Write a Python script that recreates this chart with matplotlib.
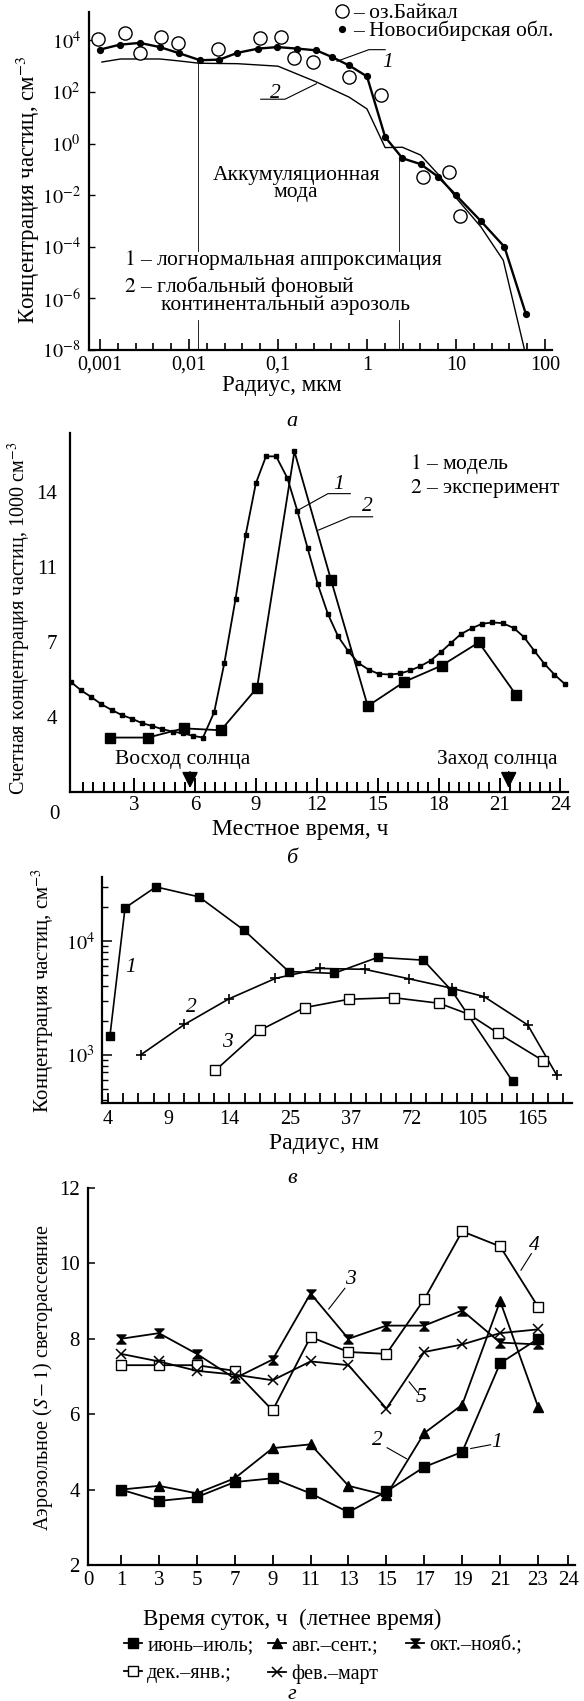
import numpy as np
import matplotlib.pyplot as plt
from matplotlib.lines import Line2D
from matplotlib.path import Path
from matplotlib.ticker import FixedLocator, FixedFormatter, NullFormatter

W, H = 584, 1701
plt.rcParams['font.family'] = ['Liberation Serif', 'DejaVu Serif']
plt.rcParams['mathtext.fontset'] = 'stix'
plt.rcParams['font.size'] = 14

# --- а: size distribution, radius in um ---
baikal_r = [0.00095, 0.0019, 0.0028, 0.0049, 0.0076, 0.0214, 0.063, 0.107, 0.15, 0.25, 0.63, 1.44, 4.3, 8.3, 11]
baikal_n = [1.15e4, 2e4, 3.3e3, 1.3e4, 8e3, 4.5e3, 1.2e4, 1.4e4, 2.1e3, 1.45e3, 380, 74, 0.049, 0.076, 0.0016]
novosib_r = [0.001, 0.00166, 0.0028, 0.0047, 0.0077, 0.0133, 0.022, 0.035, 0.06, 0.098, 0.165, 0.27,
             0.4, 0.63, 1.0, 1.6, 2.5, 4.0, 6.3, 10, 19, 35, 61]
novosib_n = [4.4e3, 6.8e3, 8e3, 5.5e3, 3.2e3, 1.7e3, 1.8e3, 3.3e3, 4.8e3, 5.5e3, 4.8e3, 4.1e3,
             2.3e3, 1.07e3, 400, 1.8, 0.27, 0.16, 0.052, 0.01, 0.001, 1e-4, 2.5e-7]
bg_r = [0.00105, 0.0017, 0.0047, 0.0077, 0.013, 0.035, 0.1, 0.27, 0.63, 1.0, 1.6, 2.5, 4.0, 6.3, 10, 19, 34, 59]
bg_n = [1.45e3, 1.9e3, 1.9e3, 1.6e3, 1.3e3, 1.25e3, 1e3, 245, 63, 22, 0.7, 0.72, 0.36, 0.065, 0.008, 6e-4, 3e-5, 1e-8]
mode_bounds = [0.0125, 2.3]
a_xticks = [0.001, 0.01, 0.1, 1, 10, 100]
a_xlabels = ['0,001', '0,01', '0,1', '1', '10', '100']
a_yticks = [1e-8, 1e-6, 1e-4, 1e-2, 1e0, 1e2, 1e4]
a_ylabels = [r'$10^{-8}$', r'$10^{-6}$', r'$10^{-4}$', r'$10^{-2}$', r'$10^{0}$', r'$10^{2}$', r'$10^{4}$']

# --- б: diurnal count concentration ---
model_h = [-0.1, 0.4, 0.9, 1.4, 1.9, 2.4, 2.9, 3.4, 3.9, 4.4, 4.9, 5.4, 5.9, 6.4, 6.95, 7.45, 8.0, 8.5, 9.0,
           9.5, 10.0, 10.55, 11.05, 11.55, 12.05, 12.55, 13.05, 13.55, 14.05, 14.55, 15.05, 15.6, 16.1, 16.6,
           17.1, 17.6, 18.1, 18.6, 19.1, 19.65, 20.15, 20.65, 21.15, 21.7, 22.2, 22.7, 23.2, 23.7, 24.2]
model_c = [5.13, 4.74, 4.43, 4.09, 3.83, 3.59, 3.42, 3.21, 3.08, 2.93, 2.82, 2.74, 2.62, 2.54, 3.73, 6.02, 9.0,
           12.0, 14.4, 15.66, 15.66, 14.65, 13.1, 11.37, 9.69, 8.3, 7.26, 6.57, 6.02, 5.71, 5.51, 5.48, 5.53,
           5.67, 5.87, 6.13, 6.52, 6.95, 7.37, 7.65, 7.85, 7.91, 7.88, 7.65, 7.23, 6.6, 5.99, 5.48, 5.05]
exp_h = [1.82, 3.69, 5.45, 7.28, 9.06, 10.9, 12.7, 14.51, 16.31, 18.15, 19.98, 21.82]
exp_c = [2.54, 2.54, 2.97, 2.88, 4.86, 15.89, 9.9, 4.01, 5.14, 5.9, 6.98, 4.52]
b_yticks = [3.5, 7, 10.5, 14]
b_ylabels = ['4', '7', '11', '14']
b_xticks = [3, 6, 9, 12, 15, 18, 21, 24]
sunrise, sunset = 5.76, 21.45

# --- в: size spectra, radius channels in nm ---
c_labels = ['4', '9', '14', '25', '37', '72', '105', '165']
c1_x = [0.03, 0.28, 0.79, 1.5, 2.24, 2.98, 3.72, 4.45, 5.2, 5.67, 6.67]
c1_n = [1450, 19600, 30000, 24500, 12500, 5400, 5200, 7200, 6800, 3650, 585]
c2_x = [0.54, 1.26, 1.99, 2.76, 3.5, 4.23, 4.97, 5.67, 6.2, 6.92, 7.4]
c2_n = [1000, 1850, 3100, 4700, 5750, 5650, 4650, 3850, 3250, 1830, 660]
c3_x = [1.77, 2.5, 3.24, 3.97, 4.71, 5.46, 5.95, 6.43, 7.17]
c3_n = [730, 1640, 2600, 3080, 3180, 2840, 2270, 1550, 890]

# --- г: aerosol scattering by season ---
hours = [1, 3, 5, 7, 9, 11, 13, 15, 17, 19, 21, 23]
s_jun = [4.0, 3.7, 3.8, 4.2, 4.3, 3.9, 3.4, 3.95, 4.6, 5.0, 7.35, 8.0]
s_aug = [4.0, 4.1, 3.9, 4.3, 5.1, 5.2, 4.1, 3.85, 5.5, 6.25, 9.0, 6.2]
s_oct = [8.0, 8.15, 7.6, 6.95, 7.45, 9.2, 8.0, 8.35, 8.35, 8.75, 7.9, 7.85]
s_dec = [7.3, 7.3, 7.3, 7.15, 6.1, 8.05, 7.65, 7.6, 9.05, 10.85, 10.45, 8.85]
s_feb = [7.6, 7.4, 7.15, 7.05, 6.9, 7.4, 7.3, 6.15, 7.65, 7.85, 8.15, 8.25]
seasons = ['июнь–июль;', 'авг.–сент.;', 'окт.–нояб.;', 'дек.–янв.;', 'фев.–март']

TXT = 15.5  # annotation text size


def rect(l, t, r, b):
    return [l / W, 1 - b / H, (r - l) / W, (b - t) / H]


def style(ax):
    for s in ('top', 'right'):
        ax.spines[s].set_visible(False)
    for s in ('left', 'bottom'):
        ax.spines[s].set_linewidth(1.6)


def leader(ax, xs, ys, lw=0.8):
    ax.plot(xs, ys, color='black', lw=lw)


fig = plt.figure(figsize=(W / 100, H / 100), dpi=100)

# ================= а =================
ax = fig.add_axes(rect(89, 12, 552, 350))
style(ax)
ax.set_xscale('log')
ax.set_yscale('log')
ax.set_xlim(10 ** -3.124, 10 ** 2.079)
ax.set_ylim(1e-8, 10 ** 5.1)
for xb, top in zip(mode_bounds, [10 ** 3.1, 10 ** -0.55]):
    ax.plot([xb, xb], [top, 10 ** -4.15], color='black', lw=0.6)
    ax.plot([xb, xb], [10 ** -6.85, 1e-8], color='black', lw=0.6)
ax.plot(bg_r, bg_n, color='black', lw=1.0)
ax.plot(novosib_r, novosib_n, color='black', lw=1.7, marker='o', ms=4.2)
ax.plot(baikal_r, baikal_n, ls='none', marker='o', ms=9.5, mfc='white', mec='black', mew=1.0)
ax.xaxis.set_major_locator(FixedLocator(a_xticks))
ax.xaxis.set_major_formatter(FixedFormatter(a_xlabels))
ax.xaxis.set_minor_locator(FixedLocator(10 ** np.arange(-3, 2.01, 0.2)))
ax.xaxis.set_minor_formatter(NullFormatter())
ax.yaxis.set_major_locator(FixedLocator(a_yticks))
ax.yaxis.set_major_formatter(FixedFormatter(a_ylabels))
ax.yaxis.set_minor_locator(FixedLocator([1e-7, 1e-5, 1e-3, 1e-1, 1e1, 1e3]))
ax.yaxis.set_minor_formatter(NullFormatter())
ax.tick_params(axis='x', which='major', direction='in', length=8, width=1.2, pad=4, labelsize=14.5)
ax.tick_params(axis='x', which='minor', direction='in', length=5, width=1.2)
ax.tick_params(axis='y', which='major', direction='in', length=4, width=1.0, pad=6, labelsize=14.5)
ax.tick_params(axis='y', which='minor', length=0)
ax.text(0.16, 10 ** -1.23, 'Аккумуляционная', ha='center', va='center', fontsize=TXT)
ax.text(0.16, 10 ** -1.9, 'мода', ha='center', va='center', fontsize=TXT)
ax.text(0.00185, 10 ** -4.52, r'$\mathit{1}$ – логнормальная аппроксимация', ha='left', va='center', fontsize=TXT)
ax.text(0.00185, 10 ** -5.52, r'$\mathit{2}$ – глобальный фоновый', ha='left', va='center', fontsize=TXT)
ax.text(0.0048, 10 ** -6.26, 'континентальный аэрозоль', ha='left', va='center', fontsize=TXT)
leader(ax, [0.46, 1.05, 1.6], [10 ** 3.19, 10 ** 3.64, 10 ** 3.64])
ax.text(1.72, 10 ** 3.16, '1', style='italic', ha='center', va='center', fontsize=TXT)
leader(ax, [0.064, 0.12, 0.27], [10 ** 1.72, 10 ** 1.72, 10 ** 2.32])
ax.text(0.093, 10 ** 1.94, '2', style='italic', ha='center', va='center', fontsize=TXT)
hb = [Line2D([], [], ls='none', marker='o', ms=9.5, mfc='white', mec='black'),
      Line2D([], [], ls='none', marker='o', ms=4.2, color='black')]
ax.legend(hb, ['– оз.Байкал', '– Новосибирская обл.'], loc='upper left', frameon=False,
          bbox_to_anchor=((333 - 89) / 463, (350 - 3) / 338), borderpad=0, borderaxespad=0,
          handlelength=0.8, handletextpad=0.15, labelspacing=-0.1, fontsize=15.5)
fig.text(282 / W, 1 - 386 / H, 'Радиус, мкм', ha='center', va='center', fontsize=16.5)
fig.text(28 / W, 1 - 190 / H, 'Концентрация частиц, см$^{-3}$', rotation=90, ha='center', va='center', fontsize=16.5)
fig.text(292 / W, 1 - 421 / H, 'а', style='italic', ha='center', va='center', fontsize=16)

# ================= б =================
ax = fig.add_axes(rect(70, 433, 568, 792))
style(ax)
ax.set_xlim(-0.15, 24.37)
ax.set_ylim(0, 16.75)
ax.plot(model_h, model_c, color='black', lw=1.3, marker='s', ms=2.6)
ax.plot(exp_h, exp_c, color='black', lw=1.3, marker='s', ms=6.5,
        markevery=[i for i in range(len(exp_h)) if i != 5])
ax.plot(exp_h[5], exp_c[5], ls='none', marker='s', ms=2.6, color='black')
ax.xaxis.set_major_locator(FixedLocator(b_xticks))
ax.xaxis.set_minor_locator(FixedLocator(np.arange(0.5, 24.4, 0.5)))
ax.yaxis.set_major_locator(FixedLocator(b_yticks))
ax.yaxis.set_major_formatter(FixedFormatter(b_ylabels))
ax.tick_params(axis='x', which='major', direction='in', length=10, width=1.4, pad=3, labelsize=15)
ax.tick_params(axis='x', which='minor', direction='in', length=7, width=1.4)
ax.tick_params(axis='y', direction='in', length=0, pad=9, labelsize=15)
ax.text(-0.94, -0.035, '0', transform=ax.get_xaxis_transform(), ha='center', va='top', fontsize=15)
ax.text(16.6, 15.32, r'$\mathit{1}$ – модель', ha='left', va='center', fontsize=TXT)
ax.text(16.6, 14.15, r'$\mathit{2}$ – эксперимент', ha='left', va='center', fontsize=TXT)
leader(ax, [11.08, 12.55, 13.65], [13.15, 13.92, 13.92])
ax.text(13.1, 14.35, '1', style='italic', ha='center', va='center', fontsize=TXT)
leader(ax, [12.09, 13.65, 14.75], [12.22, 12.84, 12.84])
ax.text(14.47, 13.3, '2', style='italic', ha='center', va='center', fontsize=TXT)
ax.text(5.39, 1.53, 'Восход солнца', ha='center', va='center', fontsize=TXT)
ax.text(20.9, 1.53, 'Заход солнца', ha='center', va='center', fontsize=TXT)
for xs in (sunrise, sunset):
    ax.annotate('', xy=(xs, 0.05), xytext=(xs, 1.07),
                arrowprops=dict(arrowstyle='-|>,head_width=0.35,head_length=0.7', color='black', lw=1.2))
fig.text(300 / W, 1 - 830 / H, 'Местное время, ч', ha='center', va='center', fontsize=17)
fig.text(19 / W, 1 - 618 / H, 'Счетная концентрация частиц, 1000 см$^{-3}$', rotation=90,
         ha='center', va='center', fontsize=14.5)
fig.text(292 / W, 1 - 858 / H, 'б', style='italic', ha='center', va='center', fontsize=16)

# ================= в =================
ax = fig.add_axes(rect(102, 877, 572, 1103))
style(ax)
ax.set_yscale('log')
ax.set_xlim(-0.1, 7.65)
ax.set_ylim(10 ** 2.576, 10 ** 4.564)
ax.plot(c1_x, c1_n, color='black', lw=1.2, marker='s', ms=5.2)
ax.plot(c2_x, c2_n, color='black', lw=1.2, marker='+', ms=7, mew=1.2)
ax.plot(c3_x, c3_n, color='black', lw=1.2, marker='s', ms=6.5, mfc='white', mew=1.0)
ax.xaxis.set_major_locator(FixedLocator(range(len(c_labels))))
ax.xaxis.set_major_formatter(FixedFormatter(c_labels))
ax.xaxis.set_minor_locator(FixedLocator(np.arange(0, 7.6, 0.25)))
ax.yaxis.set_major_locator(FixedLocator([1e3, 1e4]))
ax.yaxis.set_major_formatter(FixedFormatter([r'$10^{3}$', r'$10^{4}$']))
minor_c = [m * 10 ** k for k in (2, 3, 4) for m in range(2, 10)]
ax.yaxis.set_minor_locator(FixedLocator(minor_c))
ax.yaxis.set_minor_formatter(NullFormatter())
ax.tick_params(axis='x', which='both', direction='in', length=7, width=1.3, pad=5, labelsize=14.5)
ax.tick_params(axis='y', which='major', direction='in', length=7, width=1.1, pad=5, labelsize=14.5)
ax.tick_params(axis='y', which='minor', direction='in', length=4, width=1.0)
ax.text(0.37, 10 ** 3.77, '1', style='italic', ha='center', va='center', fontsize=TXT)
ax.text(1.38, 10 ** 3.42, '2', style='italic', ha='center', va='center', fontsize=TXT)
ax.text(1.97, 10 ** 3.11, '3', style='italic', ha='center', va='center', fontsize=TXT)
fig.text(324 / W, 1 - 1143 / H, 'Радиус, нм', ha='center', va='center', fontsize=17)
fig.text(43 / W, 1 - 990 / H, 'Концентрация частиц, см$^{-3}$', rotation=90, ha='center', va='center', fontsize=15)
fig.text(292 / W, 1 - 1178 / H, 'в', style='italic', ha='center', va='center', fontsize=16)

# ================= г =================
hourglass = Path([(-1, 1), (1, 1), (-1, -1), (1, -1), (-1, 1)],
                 [Path.MOVETO, Path.LINETO, Path.LINETO, Path.LINETO, Path.CLOSEPOLY])
ax = fig.add_axes(rect(88, 1188, 575, 1565))
style(ax)
ax.set_xlim(-0.74, 24.95)
ax.set_ylim(2, 12)
kw = dict(color='black', lw=1.3)
h1, = ax.plot(hours, s_jun, marker='s', ms=6.5, **kw)
h2, = ax.plot(hours, s_aug, marker='^', ms=6.5, **kw)
h3, = ax.plot(hours, s_oct, marker=hourglass, ms=6.5, **kw)
h4, = ax.plot(hours, s_dec, marker='s', ms=7.5, mfc='white', mew=1.0, **kw)
h5, = ax.plot(hours, s_feb, marker='x', ms=6.5, mew=1.1, **kw)
ax.xaxis.set_major_locator(FixedLocator([-0.74] + hours + [24.6]))
ax.xaxis.set_major_formatter(FixedFormatter(['0'] + [str(h) for h in hours] + ['24']))
ax.yaxis.set_major_locator(FixedLocator([2, 4, 6, 8, 10, 12]))
ax.tick_params(axis='x', direction='in', length=7, width=1.3, pad=4, labelsize=15)
ax.tick_params(axis='y', direction='in', length=5, width=1.1, pad=6, labelsize=15)
leader(ax, [19.45, 20.5], [5.09, 5.19])
ax.text(20.8, 5.26, '1', style='italic', ha='center', va='center', fontsize=TXT)
leader(ax, [15.04, 16.06], [5.11, 4.82])
ax.text(14.52, 5.31, '2', style='italic', ha='center', va='center', fontsize=TXT)
leader(ax, [11.96, 12.81], [8.79, 9.34])
ax.text(13.1, 9.56, '3', style='italic', ha='center', va='center', fontsize=TXT)
leader(ax, [22.1, 22.65], [9.82, 10.26])
ax.text(22.8, 10.48, '4', style='italic', ha='center', va='center', fontsize=TXT)
leader(ax, [16.2, 16.65], [6.86, 6.58])
ax.text(16.85, 6.45, '5', style='italic', ha='center', va='center', fontsize=TXT)
leg_kw = dict(loc='upper left', frameon=False, borderpad=0, borderaxespad=0, handlelength=0.9,
              handletextpad=0.25, labelspacing=0.45, fontsize=14.5)
for handles, labels, x0 in [([h1, h4], [seasons[0], seasons[3]], 124),
                            ([h2, h5], [seasons[1], seasons[4]], 268),
                            ([h3], [seasons[2]], 406)]:
    fig.legend(handles, labels, bbox_to_anchor=(x0 / W, 1 - 1636 / H), **leg_kw)
fig.text(292 / W, 1 - 1619 / H, 'Время суток, ч  (летнее время)', ha='center', va='center', fontsize=16.5)
fig.text(43 / W, 1 - 1378 / H, 'Аэрозольное ($S-1$) светорассеяние', rotation=90,
         ha='center', va='center', fontsize=14.5)
fig.text(292 / W, 1 - 1694 / H, 'г', style='italic', ha='center', va='center', fontsize=16)

fig.savefig('out.png', dpi=100)
